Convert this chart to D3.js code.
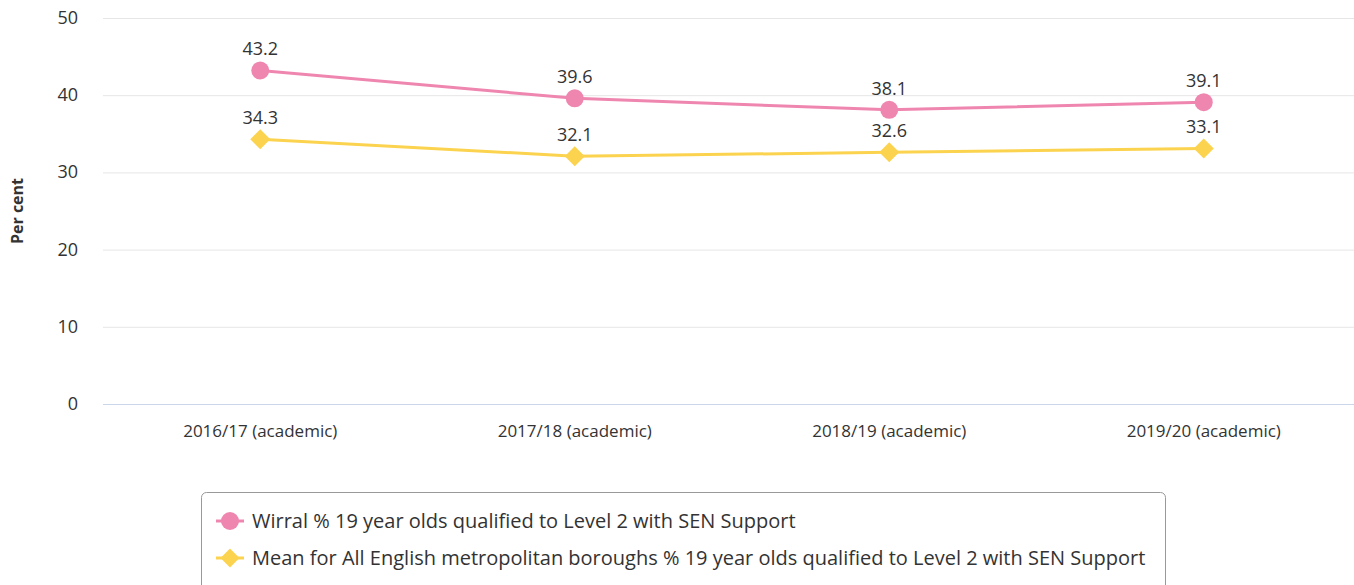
<!DOCTYPE html>
<html><head><meta charset="utf-8">
<script src="https://cdn.jsdelivr.net/npm/d3@7"></script>
<style>body{margin:0;background:#fff;overflow:hidden}svg{display:block;font-family:"Open Sans",sans-serif}</style>
</head><body>
<script>
const categories = ["2016/17 (academic)","2017/18 (academic)","2018/19 (academic)","2019/20 (academic)"];
const wirral = [43.2, 39.6, 38.1, 39.1];
const meanMet = [34.3, 32.1, 32.6, 33.1];
const yTicks = [0,10,20,30,40,50];
const seriesNames = ["Wirral % 19 year olds qualified to Level 2 with SEN Support","Mean for All English metropolitan boroughs % 19 year olds qualified to Level 2 with SEN Support"];
const colors = ["#ef86b0","#fcd34f"];

const W = 1354, H = 585;
const svg = d3.select("body").append("svg").attr("width", W).attr("height", H);
const x = d3.scaleBand().domain(categories).range([103, 1361]);
const y = d3.scaleLinear().domain([0,50]).range([404, 18]);

svg.append("g").selectAll("line").data(yTicks).join("line")
  .attr("x1", 103).attr("x2", W).attr("y1", d=>y(d)+0.5).attr("y2", d=>y(d)+0.5)
  .attr("stroke", d=>d===0?"#ccd6eb":"#e6e6e6").attr("stroke-width",1);

svg.append("g").selectAll("text").data(yTicks).join("text")
  .attr("x", 78).attr("y", d=>y(d)+6).attr("text-anchor","end")
  .attr("font-size",18).attr("fill","#333").text(d=>d);

svg.append("text").attr("transform","translate(23,211) rotate(-90)")
  .attr("text-anchor","middle").attr("font-size",16).attr("font-weight","bold").attr("fill","#333").text("Per cent");

svg.append("g").selectAll("text").data(categories).join("text")
  .attr("x", d=>x(d)+x.bandwidth()/2).attr("y", 437).attr("text-anchor","middle")
  .attr("font-size",17).attr("fill","#333").text(d=>d);

const cx = (d,i)=>x(categories[i])+x.bandwidth()/2;
const line = d3.line().x((d,i)=>cx(d,i)).y(d=>y(d));

[wirral, meanMet].forEach((s,k)=>{
  svg.append("path").datum(s).attr("d", line).attr("fill","none").attr("stroke",colors[k]).attr("stroke-width",3);
  const g = svg.append("g");
  if(k===0){
    g.selectAll("circle").data(s).join("circle").attr("cx",cx).attr("cy",d=>y(d)).attr("r",9).attr("fill",colors[k]);
  } else {
    g.selectAll("path").data(s).join("path")
      .attr("d", d3.symbol().type(d3.symbolSquare).size(200))
      .attr("transform",(d,i)=>`translate(${cx(d,i)},${y(d)}) rotate(45)`).attr("fill",colors[k]);
  }
  svg.append("g").selectAll("text").data(s).join("text")
    .attr("x",cx).attr("y",d=>y(d)-15).attr("text-anchor","middle")
    .attr("font-size",18).attr("fill","#333").text(d=>d.toFixed(1));
});

svg.append("rect").attr("x",201.5).attr("y",492.5).attr("width",964).attr("height",110).attr("rx",5)
  .attr("fill","none").attr("stroke","#999");
const lg = svg.append("g").selectAll("g").data(seriesNames).join("g")
  .attr("transform",(d,i)=>`translate(0,${521+i*37})`);
lg.append("line").attr("x1",216).attr("x2",244).attr("y1",0).attr("y2",0).attr("stroke",(d,i)=>colors[i]).attr("stroke-width",3);
lg.each(function(d,i){
  const g = d3.select(this);
  if(i===0) g.append("circle").attr("cx",230).attr("cy",0).attr("r",9).attr("fill",colors[0]);
  else g.append("path").attr("d",d3.symbol().type(d3.symbolSquare).size(180)).attr("transform","translate(230,0) rotate(45)").attr("fill",colors[1]);
});
lg.append("text").attr("x",252).attr("y",7).attr("font-size",20).attr("fill","#333").text(d=>d);
</script>
</body></html>
